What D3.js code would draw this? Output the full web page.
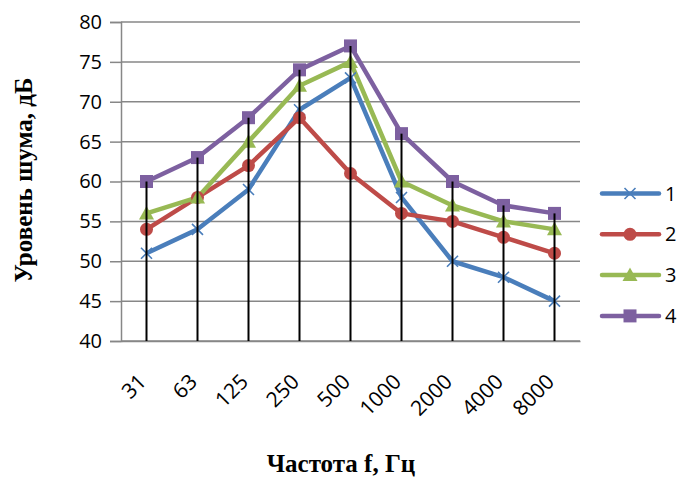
<!DOCTYPE html>
<html><head><meta charset="utf-8">
<script src="https://cdn.jsdelivr.net/npm/d3@7"></script>
<style>body{margin:0;background:#fff}svg{display:block}</style>
</head><body>
<svg id="chart" width="681" height="479"></svg>
<script>
// Frequency bands (Hz) and noise levels (dB) for the four measurement series
const categories = ["31", "63", "125", "250", "500", "1000", "2000", "4000", "8000"];
const series1 = [51, 54, 59, 69, 73, 58, 50, 48, 45];
const series2 = [54, 58, 62, 68, 61, 56, 55, 53, 51];
const series3 = [56, 58, 65, 72, 75, 60, 57, 55, 54];
const series4 = [60, 63, 68, 74, 77, 66, 60, 57, 56];
const seriesNames = ["1", "2", "3", "4"];
const yTicks = [40, 45, 50, 55, 60, 65, 70, 75, 80];

const allSeries = [series1, series2, series3, series4];
const colors = ["#4A7EBB", "#BE4B48", "#98B954", "#7D60A0"];
const shapes = ["cross", "circle", "triangle", "square"];

const svg = d3.select("#chart");
const plot = {left: 121, right: 580, top: 22, bottom: 341};

const x = d3.scaleBand().domain(categories).range([plot.left, plot.right]);
const y = d3.scaleLinear().domain([40, 80]).range([plot.bottom, plot.top]);
const cx = c => x(c) + x.bandwidth() / 2;

// Horizontal gridlines
svg.append("g").selectAll("line").data(yTicks).join("line")
  .attr("x1", plot.left).attr("x2", plot.right)
  .attr("y1", d => y(d)).attr("y2", d => y(d))
  .attr("stroke", "#878787").attr("stroke-width", 1.5);

// Y axis
const yAxis = svg.append("g").attr("transform", `translate(${plot.left},0)`)
  .call(d3.axisLeft(y).tickValues(yTicks).tickSize(11).tickPadding(8));
yAxis.select(".domain").attr("stroke", "#878787").attr("stroke-width", 1.5);
yAxis.selectAll(".tick line").attr("stroke", "#878787").attr("stroke-width", 1.5);
yAxis.selectAll("text").attr("font-family", "'Open Sans', 'Noto Sans', sans-serif")
  .attr("font-size", 20).attr("fill", "#000");

// X axis (baseline and rotated labels)
const xAxis = svg.append("g").attr("transform", `translate(0,${plot.bottom})`)
  .call(d3.axisBottom(x).tickSize(0).tickPadding(0));
xAxis.select(".domain").attr("stroke", "#878787").attr("stroke-width", 1.5);
xAxis.selectAll(".tick text")
  .attr("font-family", "'Open Sans', 'Noto Sans', sans-serif")
  .attr("font-size", 21).attr("fill", "#000")
  .attr("text-anchor", "end")
  .attr("dy", null)
  .attr("transform", "translate(1,42) rotate(-45)");

// Series lines
const line = d3.line().x((d, i) => cx(categories[i])).y(d => y(d));
allSeries.forEach((s, k) => {
  svg.append("path").datum(s).attr("d", line)
    .attr("fill", "none").attr("stroke", colors[k]).attr("stroke-width", 4.5)
    .attr("stroke-linejoin", "round");
});

// Markers
function marker(g, shape, color) {
  if (shape === "cross") {
    g.append("path").attr("d", "M-5.5,-5.5L5.5,5.5M-5.5,5.5L5.5,-5.5")
      .attr("stroke", color).attr("stroke-width", 1.6).attr("fill", "none");
  } else if (shape === "circle") {
    g.append("circle").attr("r", 6.5).attr("fill", color);
  } else if (shape === "triangle") {
    g.append("path").attr("d", "M0,-7.5L7.5,6L-7.5,6Z").attr("fill", color);
  } else {
    g.append("rect").attr("x", -6.5).attr("y", -6.5).attr("width", 13).attr("height", 13).attr("fill", color);
  }
}
allSeries.forEach((s, k) => {
  s.forEach((v, i) => {
    const g = svg.append("g").attr("transform", `translate(${cx(categories[i])},${y(v)})`);
    marker(g, shapes[k], colors[k]);
  });
});

// Drop lines from the highest series down to the axis
categories.forEach((c, i) => {
  const top = d3.max(allSeries, s => s[i]);
  svg.append("line")
    .attr("x1", cx(c)).attr("x2", cx(c))
    .attr("y1", y(top)).attr("y2", plot.bottom)
    .attr("stroke", "#000").attr("stroke-width", 2);
});

// Legend
const legend = svg.append("g");
seriesNames.forEach((name, k) => {
  const ly = 193.5 + k * 40.8;
  legend.append("line").attr("x1", 602).attr("x2", 659).attr("y1", ly).attr("y2", ly)
    .attr("stroke", colors[k]).attr("stroke-width", 4.5).attr("stroke-linecap", "round");
  const g = legend.append("g").attr("transform", `translate(630,${ly})`);
  marker(g, shapes[k], colors[k]);
  legend.append("text").attr("x", 665).attr("y", ly + 7)
    .attr("font-family", "'Open Sans', 'Noto Sans', sans-serif").attr("font-size", 20)
    .attr("fill", "#000").text(name);
});

// Axis titles
svg.append("text")
  .attr("transform", `translate(32,180) rotate(-90)`)
  .attr("text-anchor", "middle")
  .attr("font-family", "'Liberation Serif', 'Times New Roman', serif")
  .attr("font-weight", "bold").attr("font-size", 25).attr("fill", "#000")
  .text("Уровень шума, дБ");
svg.append("text")
  .attr("x", 341).attr("y", 472)
  .attr("text-anchor", "middle")
  .attr("font-family", "'Liberation Serif', 'Times New Roman', serif")
  .attr("font-weight", "bold").attr("font-size", 25).attr("fill", "#000")
  .text("Частота f, Гц");
</script>
</body></html>
